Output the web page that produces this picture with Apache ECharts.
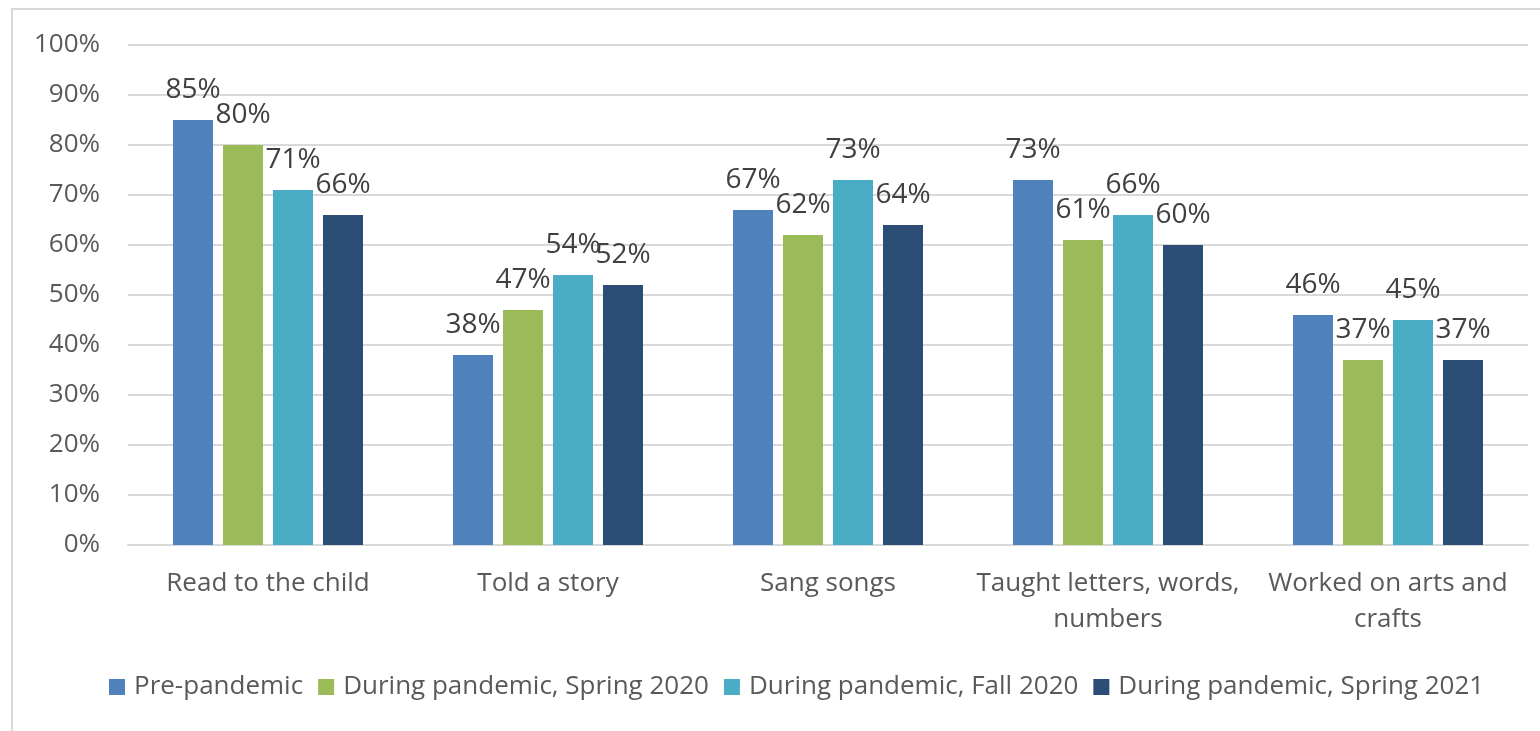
<!DOCTYPE html>
<html><head><meta charset="utf-8">
<script src="https://cdn.jsdelivr.net/npm/echarts@6/dist/echarts.min.js"></script>
<style>html,body{margin:0;padding:0;background:#fff}#c{width:1540px;height:731px}</style>
</head><body><div id="c"></div>
<script>
const categories = ['Read to the child','Told a story','Sang songs','Taught letters, words,\nnumbers','Worked on arts and\ncrafts'];
const seriesNames = ['Pre-pandemic','During pandemic, Spring 2020','During pandemic, Fall 2020','During pandemic, Spring 2021'];
const prePandemic = [85,38,67,73,46];
const spring2020 = [80,47,62,61,37];
const fall2020 = [71,54,73,66,45];
const spring2021 = [66,52,64,60,37];
const yTicks = [0,10,20,30,40,50,60,70,80,90,100];
const colors = ['#4f81bd','#9bbb59','#4bacc6','#2c4d75'];
const font = '"Open Sans", sans-serif';
const txt = '#595959';
const values = [prePandemic, spring2020, fall2020, spring2021];
const chart = echarts.init(document.getElementById('c'));
chart.setOption({
  animation:false,
  color:colors,
  textStyle:{fontFamily:font},
  grid:{left:128,right:12,top:45,bottom:186,containLabel:false},
  graphic:[{type:'rect',shape:{x:12,y:9,width:1600,height:800},style:{fill:'none',stroke:'#d9d9d9',lineWidth:2},silent:true}],
  legend:{bottom:26,left:104,itemWidth:16,itemHeight:16,itemGap:15,icon:'rect',
    textStyle:{fontSize:26,color:txt,fontFamily:font,padding:[0,0,0,4]}},
  xAxis:{type:'category',data:categories,
    axisLine:{lineStyle:{color:'#d9d9d9',width:2}},axisTick:{show:false},
    axisLabel:{fontSize:26,color:txt,fontFamily:font,lineHeight:36,margin:21,interval:0}},
  yAxis:{type:'value',min:0,max:100,interval:10,
    axisLabel:{formatter:v=>yTicks.includes(v)?v+'%':'',fontSize:26,color:txt,fontFamily:font,margin:28},
    splitLine:{lineStyle:{color:'#d9d9d9',width:2}},axisLine:{show:false},axisTick:{show:false}},
  series:values.map((d,i)=>({name:seriesNames[i],type:'bar',data:d,barWidth:40,barGap:'25%',
    label:{show:true,position:'top',distance:16,formatter:'{c}%',fontSize:28,color:'#404040',fontFamily:font}}))
});
</script></body></html>
